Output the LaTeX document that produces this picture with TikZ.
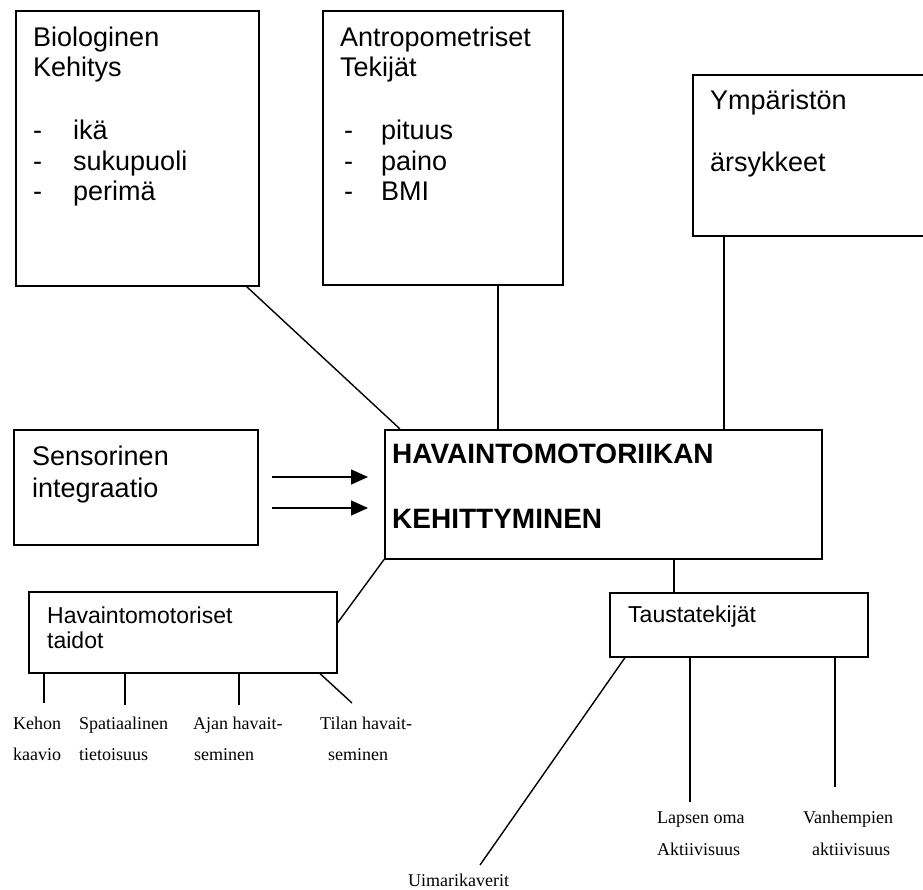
\documentclass[tikz,border=0pt]{standalone}
\usepackage{fontspec}
\setmainfont{Liberation Sans}
\newfontfamily\serifLab{Liberation Serif}
\usetikzlibrary{arrows.meta}
\begin{document}
\begin{tikzpicture}[x=1pt,y=-1pt,
  box/.style={draw, line width=1.6pt, rectangle, inner sep=0pt, anchor=north west},
  conn/.style={line width=1.4pt},
  big/.style={font=\fontsize{27}{30}\selectfont, anchor=base west, inner sep=0pt},
  mid/.style={font=\fontsize{23}{26}\selectfont, anchor=base west, inner sep=0pt},
  hb/.style={font=\fontsize{28}{30}\selectfont\bfseries, anchor=base west, inner sep=0pt},
  lab/.style={font=\serifLab\fontsize{18}{20}\selectfont, anchor=base west, inner sep=0pt},
  arr/.style={line width=1.4pt, -{Triangle[length=17pt,width=15pt]}}]
\useasboundingbox (0,0) rectangle (923,890);
\clip (0,0) rectangle (923,890);

% boxes
\node[box, minimum width=243pt, minimum height=275pt] (bio) at (15,10) {};
\node[box, minimum width=240pt, minimum height=274pt] (antro) at (322,10) {};
\node[box, minimum width=250pt, minimum height=161pt] (ymp) at (692,74) {};
\node[box, minimum width=437pt, minimum height=129pt] (main) at (384,429) {};
\node[box, minimum width=244pt, minimum height=115pt] (sens) at (13,429) {};
\node[box, minimum width=308pt, minimum height=81pt] (hav) at (28,591) {};
\node[box, minimum width=258pt, minimum height=64pt] (taust) at (609,592) {};

% texts in boxes
\node[big] (bt1) at (33,47) {Biologinen};
\node[big] (bt2) at (33,77) {Kehitys};
\node[big] (bd1) at (33,140) {-};
\node[big] (bd2) at (33,171) {-};
\node[big] (bd3) at (33,201) {-};
\node[big] (bi1) at (73,140) {ikä};
\node[big] (bi2) at (73,171) {sukupuoli};
\node[big] (bi3) at (73,201) {perimä};

\node[big] (at1) at (340,47) {Antropometriset};
\node[big] (at2) at (340,77) {Tekijät};
\node[big] (ad1) at (344,140) {-};
\node[big] (ad2) at (344,171) {-};
\node[big] (ad3) at (344,201) {-};
\node[big] (ai1) at (381,140) {pituus};
\node[big] (ai2) at (381,171) {paino};
\node[big] (ai3) at (381,201) {BMI};

\node[big] (yt1) at (710,110) {Ympäristön};
\node[big] (yt2) at (710,172) {ärsykkeet};

\node[big] (st1) at (32,465) {Sensorinen};
\node[big] (st2) at (32,497) {integraatio};

\node[hb] (mt1) at (392,463) {HAVAINTOMOTORIIKAN};
\node[hb] (mt2) at (392,528) {KEHITTYMINEN};

\node[mid] (ht1) at (47,623) {Havaintomotoriset};
\node[mid] (ht2) at (47,648) {taidot};

\node[mid] (tt1) at (628,622) {Taustatekijät};

% serif labels
\node[lab] (l1a) at (13,729) {Kehon};
\node[lab] (l1b) at (13,760) {kaavio};
\node[lab] (l2a) at (79,729) {Spatiaalinen};
\node[lab] (l2b) at (79,760) {tietoisuus};
\node[lab] (l3a) at (193,729) {Ajan havait-};
\node[lab] (l3b) at (194,760) {seminen};
\node[lab] (l4a) at (320,729) {Tilan havait-};
\node[lab] (l4b) at (328,760) {seminen};
\node[lab] (l5a) at (657,823) {Lapsen oma};
\node[lab] (l5b) at (657,855) {Aktiivisuus};
\node[lab] (l6a) at (803,823) {Vanhempien};
\node[lab] (l6b) at (812,855) {aktiivisuus};
\node[lab] (l7) at (408,886) {Uimarikaverit};

% free-end coordinates
\coordinate (k1) at (44,703);
\coordinate (k2) at (125,705);
\coordinate (k3) at (239,705);
\coordinate (k4) at (352,703);
\coordinate (u1) at (480,865);
\coordinate (u2) at (690,802);
\coordinate (u3) at (835,787);
\coordinate (a1s) at (272,477);
\coordinate (a1e) at (368,477);
\coordinate (a2s) at (272,508);
\coordinate (a2e) at (368,508);

% connectors
\draw[conn] ([xshift=-13pt]bio.south east) -- ([xshift=16pt]main.north west);
\draw[conn] ([xshift=176pt]antro.south west) -- ([xshift=114pt]main.north west);
\draw[conn] ([xshift=32pt]ymp.south west) -- ([xshift=340pt]main.north west);
\draw[conn] (main.south west) -- ([yshift=9.5pt]hav.east);
\draw[conn] ([xshift=290pt]main.south west) -- ([xshift=65pt]taust.north west);

\draw[conn] ([xshift=16pt]hav.south west) -- (k1);
\draw[conn] ([xshift=97pt]hav.south west) -- (k2);
\draw[conn] ([xshift=211pt]hav.south west) -- (k3);
\draw[conn] ([xshift=292pt]hav.south west) -- (k4);

\draw[conn] ([xshift=16pt]taust.south west) -- (u1);
\draw[conn] ([xshift=81pt]taust.south west) -- (u2);
\draw[conn] ([xshift=226pt]taust.south west) -- (u3);

\draw[arr] (a1s) -- (a1e);
\draw[arr] (a2s) -- (a2e);
\end{tikzpicture}
\end{document}
